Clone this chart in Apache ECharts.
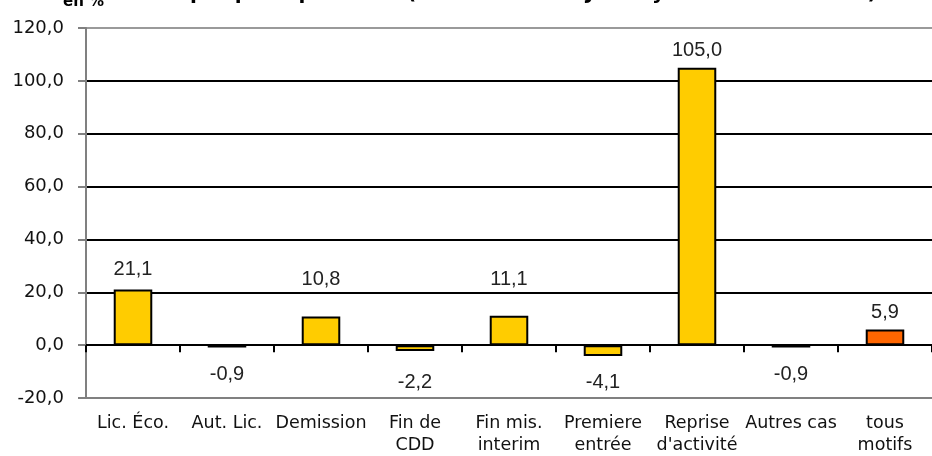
<!DOCTYPE html>
<html>
<head>
<meta charset="utf-8">
<script src="https://cdn.jsdelivr.net/npm/echarts@6/dist/echarts.min.js"></script>
<style>
html,body{margin:0;padding:0;background:#fff;}
#c{width:932px;height:456px;}
</style>
</head>
<body>
<div id="c"></div>
<script>
const categories = ['Lic. Éco.', 'Aut. Lic.', 'Demission', 'Fin de\nCDD', 'Fin mis.\ninterim', 'Premiere\nentrée', 'Reprise\nd\'activité', 'Autres cas', 'tous\nmotifs'];
const values = [21.1, -0.9, 10.8, -2.2, 11.1, -4.1, 105.0, -0.9, 5.9];
const barColors = ['#FFCC00', '#FFCC00', '#FFCC00', '#FFCC00', '#FFCC00', '#FFCC00', '#FFCC00', '#FFCC00', '#FF6600'];
const yTicks = { min: -20, max: 120, interval: 20 };
const titleText = 'par principal motif (données CVS-CJO moyenne trimestrielle)';
const unitText = 'en %';

// manual label nudges (pixels), as in the original chart
const labelNudge = [-3, 0, -20, 5, -19, 0, 0, 0, 0];

const fmt = v => v.toFixed(1).replace('.', ',');

const chart = echarts.init(document.getElementById('c'), null, { renderer: 'canvas' });
chart.setOption({
  animation: false,
  backgroundColor: '#fff',
  title: {
    text: titleText,
    left: 190,
    top: -16,
    padding: 0,
    textStyle: { fontFamily: 'DejaVu Sans', fontWeight: 'bold', fontSize: 20, color: '#000' }
  },
  graphic: [{
    type: 'text', left: 63, top: -5,
    style: { text: unitText, fontFamily: 'DejaVu Sans', fontWeight: 'bold', fontSize: 15, fill: '#000' }
  }],
  grid: { left: 86, top: 28, width: 854, height: 372 },
  xAxis: [{
    type: 'category',
    data: categories,
    axisLine: { onZero: true, lineStyle: { color: '#000', width: 2 } },
    axisTick: { show: true, length: 7, lineStyle: { color: '#000', width: 2 } },
    axisLabel: { show: false },
    splitLine: { show: false }
  }, {
    type: 'category',
    data: categories,
    position: 'bottom',
    axisLine: { onZero: false, lineStyle: { color: '#808080', width: 2 } },
    axisTick: { show: false },
    axisLabel: {
      show: true, interval: 0, margin: 14,
      fontFamily: 'DejaVu Sans', fontSize: 17.5, lineHeight: 22, color: '#111'
    }
  }],
  yAxis: {
    type: 'value',
    min: yTicks.min, max: yTicks.max, interval: yTicks.interval,
    axisLine: { show: true, lineStyle: { color: '#808080', width: 2 } },
    axisTick: { show: true, length: 8, lineStyle: { color: '#808080', width: 2 } },
    axisLabel: {
      formatter: v => fmt(v), margin: 22,
      fontFamily: 'DejaVu Sans', fontSize: 18, color: '#111'
    },
    splitLine: {
      show: true,
      lineStyle: { color: ['#808080', '#000', '#000', '#000', '#000', '#000', '#000', '#9a9a9a'], width: 2 }
    }
  },
  series: [{
    type: 'bar',
    xAxisIndex: 0,
    barWidth: '41%',
    data: values.map((v, i) => ({
      value: v,
      itemStyle: { color: barColors[i], borderColor: '#000', borderWidth: 2 },
      label: { position: v < 0 ? 'bottom' : 'top', distance: v < 0 ? 17 : 7, offset: [0, labelNudge[i]] }
    })),
    label: {
      show: true,
      formatter: p => fmt(p.value),
      fontFamily: 'Liberation Sans', fontSize: 20, color: '#222'
    }
  }]
});
</script>
</body>
</html>
